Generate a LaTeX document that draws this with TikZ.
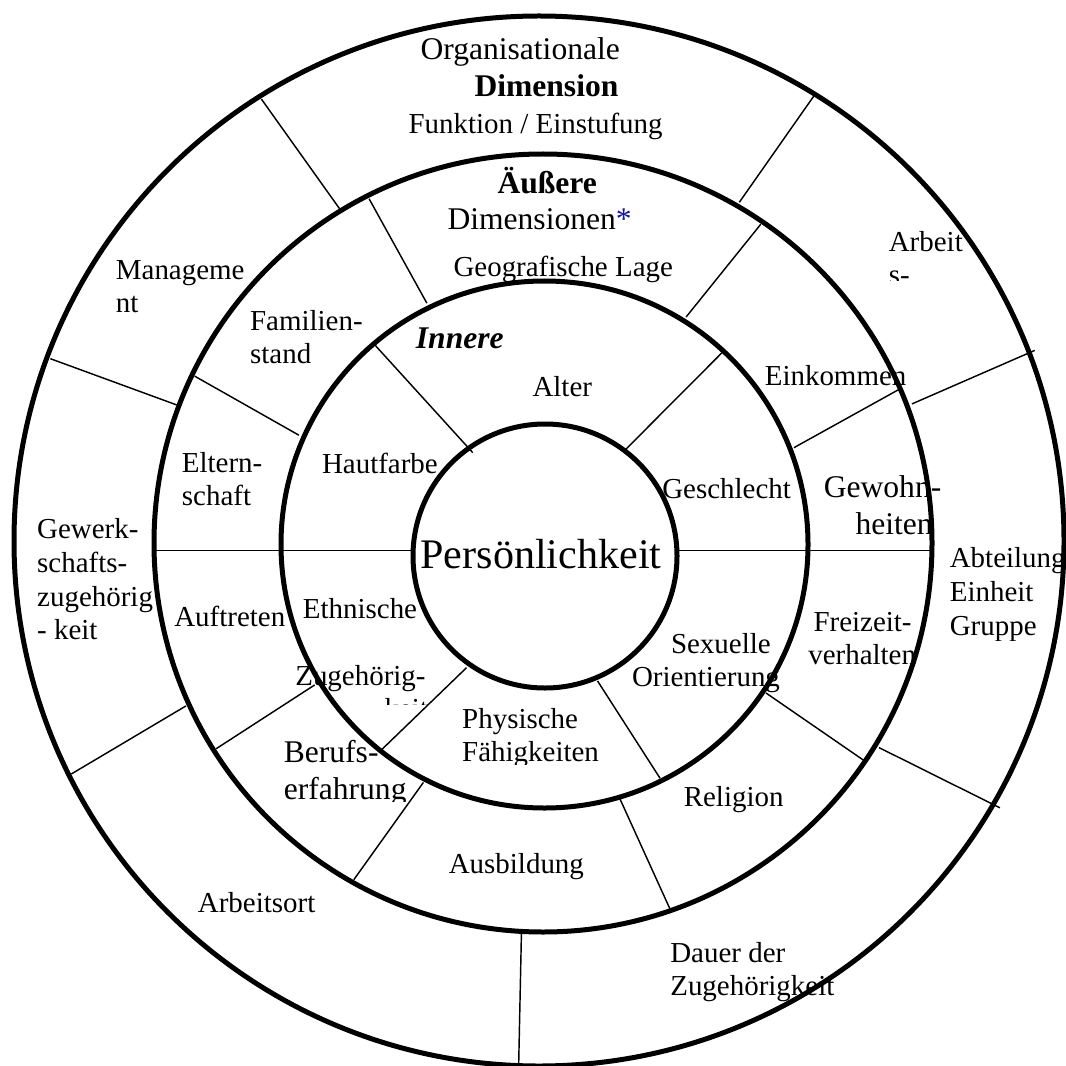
\documentclass[tikz,border=0pt]{standalone}
\usepackage{fontspec}
\setmainfont{Liberation Serif}
\definecolor{starblue}{RGB}{20,20,150}

\begin{document}
\begin{tikzpicture}[x=0.38pt, y=0.38pt]
    \tikzstyle{ring}=[draw=black, line width=1.9pt]   % thick circles
    \tikzstyle{divider}=[draw=black, line width=0.55pt]
    \tikzstyle{txt}=[inner sep=0pt, anchor=base west, font=\fontsize{11}{12.65}\selectfont]
    \tikzstyle{txt12}=[txt, font=\fontsize{12}{13.8}\selectfont]
    \tikzstyle{txtbold}=[txt, font=\fontsize{12}{13.8}\selectfont\bfseries]

    \useasboundingbox (0,0) rectangle (1066,-1066);

    % Dividers of the inner ring
    \draw[divider] (472.7,-452.6) -- (374.7,-344.8);
    \draw[divider] (626,-449.1) -- (721.9,-352.8);
    \draw[divider] (597.5,-680.9) -- (660,-778.2);
    \draw[divider] (466.5,-667.7) -- (381.6,-749.7);

    % Horizontal dividers (inner and middle ring)
    \draw[divider] (156.4,-550.5) -- (412,-550.5);
    \draw[divider] (679,-550.5) -- (933,-550.5);

    % Dividers of the middle ring
    \draw[divider] (426.8,-303.1) -- (369.1,-198.8);
    \draw[divider] (686.1,-317) -- (760.8,-224.2);
    \draw[divider] (793.9,-447.7) -- (899.2,-389.3);
    \draw[divider] (766,-693) -- (864.4,-760.8);
    \draw[divider] (620,-799) -- (669.8,-908.6);
    \draw[divider] (423.4,-782.4) -- (353.8,-879.7);
    \draw[divider] (314.6,-685) -- (216.2,-748.7);
    \draw[divider] (298.9,-435.2) -- (194.6,-376.1);

    % Dividers of the outer ring
    \draw[divider] (339.9,-209.2) -- (261.4,-99.1);
    \draw[divider] (739.3,-202.3) -- (815.8,-93.2);
    \draw[divider] (912,-403.9) -- (1034.7,-350.4);
    \draw[divider] (879,-747.6) -- (999.9,-807.8);
    \draw[divider] (521.4,-934) -- (518.6,-1068);
    \draw[divider] (186,-705.9) -- (71.3,-774);
    \draw[divider] (176.6,-404.9) -- (50.4,-358.7);

    % Circles
    \draw[ring] (539,-541) circle[radius=525];
    \draw[ring] (543,-543) circle[radius=389];
    \draw[ring] (544.5,-544.5) circle[radius=263.5];
    \draw[ring] (545,-556) circle[radius=132];

    % Core
    \node[txt, font=\fontsize{16}{18.4}\selectfont] (core) at (420,-568.3) {Persönlichkeit};

    % Inner dimension
    \node[txt, font=\fontsize{12}{13.8}\selectfont\bfseries\itshape] (innere) at (415.4,-348.3) {Innere};
    \node[txt] (alter) at (532,-396) {Alter};
    \node[txt] (hautfarbe) at (321.5,-473.4) {Hautfarbe};
    \node[txt] (geschlecht) at (661.8,-498.8) {Geschlecht};
    \node[txt] (ethnisch-1) at (302.4,-618.3) {Ethnische};
    \node[txt] (ethnisch-2) at (294.8,-685.5) {Zugehörig-};
    \begin{scope}
        \clip (370,-690) rectangle (450,-704);
        \node[txt] (ethnisch-3) at (384,-718.8) {keit};
    \end{scope}
    \node[txt] (sexuell-1) at (670.5,-653) {Sexuelle};
    \node[txt] (sexuell-2) at (631.5,-686) {Orientierung};
    \node[txt] (physisch-1) at (461.7,-728.3) {Physische};
    \begin{scope}
        \clip (450,-735) rectangle (620,-764);
        \node[txt] (physisch-2) at (461.7,-761.7) {Fähigkeiten};
    \end{scope}

    % Outer dimensions
    \node[txtbold] (aeussere) at (497,-193.3) {Äußere};
    \node[txt12] (aeussere-2) at (447,-230) {Dimensionen\textcolor{starblue}{*}};
    \node[txt] (geo) at (453,-276.7) {Geografische Lage};
    \node[txt] (einkommen) at (764.3,-385.8) {Einkommen};
    \node[txt12] (gewohn-1) at (823.3,-497.3) {Gewohn-};
    \node[txt12] (gewohn-2) at (855,-534) {heiten};
    \node[txt] (freizeit-1) at (813,-631.5) {Freizeit-};
    \node[txt] (freizeit-2) at (807.8,-664.2) {verhalten};
    \node[txt] (religion) at (683.3,-806.7) {Religion};
    \node[txt] (ausbildung) at (448.3,-873.3) {Ausbildung};
    \node[txt12] (beruf-1) at (283.3,-762.6) {Berufs-};
    \begin{scope}
        \clip (270,-770) rectangle (420,-801);
        \node[txt12] (beruf-2) at (283.3,-799) {erfahrung};
    \end{scope}
    \node[txt] (auftreten) at (173.8,-626) {Auftreten};
    \node[txt] (eltern-1) at (181.4,-472.7) {Eltern-};
    \node[txt] (eltern-2) at (181.4,-505.7) {schaft};
    \node[txt] (familie-1) at (249.6,-330.2) {Familien-};
    \node[txt] (familie-2) at (249.6,-363.2) {stand};

    % Organisational dimension
    \node[txt12] (org-1) at (420,-60) {Organisationale};
    \node[txtbold] (org-2) at (474,-96.7) {Dimension};
    \node[txt] (funktion) at (408,-133.3) {Funktion / Einstufung};
    \node[txt] (arbeit-1) at (888.3,-251.7) {Arbeit};
    \begin{scope}
        \clip (880,-262) rectangle (960,-281);
        \node[txt] (arbeit-2) at (888.3,-285) {s-};
    \end{scope}
    \node[txt] (abteilung) at (949.3,-567) {Abteilung};
    \node[txt] (einheit) at (949.3,-601) {Einheit};
    \begin{scope}
        \clip (940,-608) rectangle (1066,-640);
        \node[txt] (gruppe) at (949.3,-635) {Gruppe};
    \end{scope}
    \node[txt] (dauer-1) at (669.8,-962.4) {Dauer der};
    \node[txt] (dauer-2) at (669.8,-995.5) {Zugehörigkeit};
    \node[txt] (arbeitsort) at (197.4,-912) {Arbeitsort};
    \node[txt] (gewerk-1) at (36.7,-538.4) {Gewerk-};
    \node[txt] (gewerk-2) at (36.7,-572.4) {schafts-};
    \node[txt] (gewerk-3) at (36.7,-606.2) {zugehörig};
    \node[txt] (gewerk-4) at (36.7,-639.5) {- keit};
    \node[txt] (mgmt-1) at (115.4,-279.8) {Manageme};
    \node[txt] (mgmt-2) at (115.4,-312.8) {nt};

\end{tikzpicture}
\end{document}
